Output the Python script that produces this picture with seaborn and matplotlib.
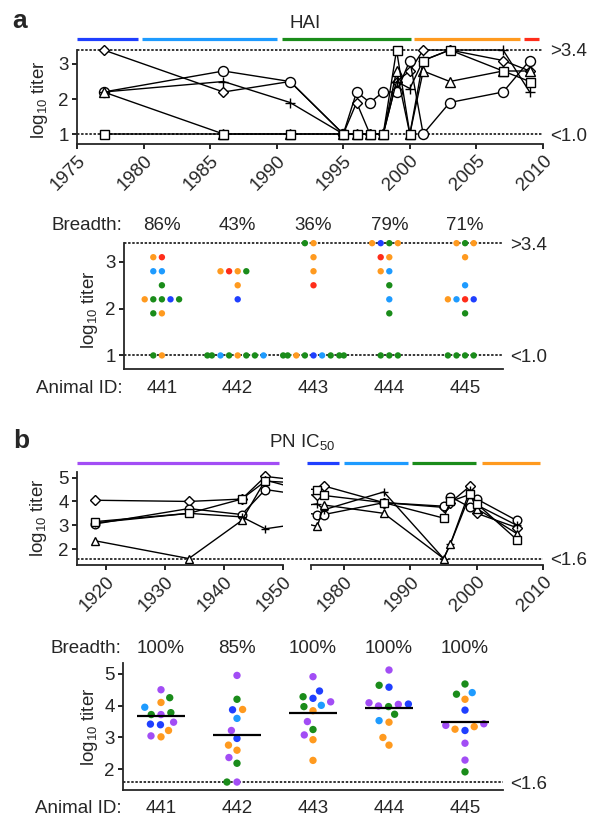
import warnings
import numpy as np
import pandas as pd
import matplotlib
matplotlib.use("Agg")
import matplotlib.pyplot as plt
from matplotlib.transforms import blended_transform_factory as blend
import seaborn as sns

warnings.filterwarnings("ignore", category=UserWarning)

# strain eras and their colours
P, B, LB, G, O, R = "1918-1947", "1976-1979", "1980-1989", "1990-1999", "2000-2007", "2009"
era_colors = {P: "#a24df5", B: "#1f3fff", LB: "#1e9bff", G: "#1a8c1a", O: "#ff9a1f", R: "#ff2d1a"}

animals = ["441", "442", "443", "444", "445"]
animal_markers = {"441": "D", "442": "o", "443": "+", "444": "^", "445": "s"}
marker_scale = {"441": 0.75, "442": 1.0, "443": 1.0, "444": 0.95, "445": 0.9}

# ---- panel a: HAI titers against strain year ----
hai_years = [1977, 1986, 1991, 1995, 1996, 1997, 1998, 1999, 2000, 2001, 2003, 2007, 2009]
hai_441 = [3.4, 2.2, 2.5, 1.0, 1.9, 1.0, 1.0, 2.5, 2.8, 3.4, 3.4, 3.1, 2.8]
hai_442 = [2.2, 2.8, 2.5, 1.0, 2.2, 1.9, 2.2, 2.2, 3.1, 1.0, 1.9, 2.2, 3.1]
hai_443 = [2.2, 2.5, 1.9, 1.0, 1.0, 1.0, 1.0, 2.5, 2.3, 3.1, 3.4, 3.4, 2.2]
hai_444 = [2.2, 1.0, 1.0, 1.0, 1.0, 1.0, 1.0, 2.8, 1.0, 2.8, 2.5, 2.8, 2.8]
hai_445 = [1.0, 1.0, 1.0, 1.0, 1.0, 1.0, 1.0, 3.4, 1.0, 3.1, 3.4, 2.8, 2.5]
hai_upper, hai_lower = 3.4, 1.0

hai_bar_eras = [B, LB, G, O, R]
hai_bar_start = [1975.0, 1979.9, 1990.4, 2000.3, 2008.6]
hai_bar_end = [1979.6, 1990.0, 2000.1, 2008.3, 2009.7]

# per animal HAI dot values and strain eras
hai_dot_values = {
    "441": [3.1, 3.1, 2.8, 2.8, 2.5, 2.2, 2.2, 2.2, 2.2, 2.2, 1.9, 1.9, 1.0, 1.0],
    "442": [2.8, 2.8, 2.8, 2.8, 2.5, 2.2, 1.0, 1.0, 1.0, 1.0, 1.0, 1.0, 1.0, 1.0],
    "443": [3.4, 3.4, 3.1, 2.8, 2.5, 1.0, 1.0, 1.0, 1.0, 1.0, 1.0, 1.0, 1.0, 1.0],
    "444": [3.4, 3.4, 3.4, 3.4, 3.1, 3.1, 2.8, 2.8, 2.5, 2.2, 1.9, 1.0, 1.0, 1.0],
    "445": [3.4, 3.4, 3.4, 3.1, 2.5, 2.2, 2.2, 2.2, 2.2, 1.9, 1.0, 1.0, 1.0, 1.0],
}
hai_dot_eras = {
    "441": [O, R, LB, LB, G, B, G, G, O, G, O, G, O, G],
    "442": [G, O, O, R, O, B, O, G, G, LB, G, G, LB, G],
    "443": [G, O, O, O, R, LB, B, G, G, G, G, G, O, G],
    "444": [O, O, G, B, R, O, LB, O, G, LB, G, G, G, G],
    "445": [O, O, G, O, LB, LB, R, B, O, G, G, G, G, G],
}

# ---- panel b: PN IC50 titers against strain year ----
pn_years = [1918, 1934, 1943, 1947, 1976, 1977, 1986, 1995, 1996, 1999, 2000, 2006]
pn_441 = [4.05, 4.0, 4.1, 5.05, 4.25, 4.65, 3.95, 3.75, 3.95, 4.65, 3.5, 2.9]
pn_442 = [3.05, 3.7, 3.45, 4.5, 3.45, 3.45, 3.95, 3.8, 4.2, 3.75, 4.1, 3.2]
pn_443 = [3.1, 3.5, 3.35, 2.85, 3.9, 3.65, 4.4, 1.6, 2.2, 4.5, 3.85, 3.0]
pn_444 = [2.35, 1.6, 3.2, 4.9, 2.95, 3.85, 3.5, 1.6, 2.2, 4.3, 3.7, 2.65]
pn_445 = [3.15, 3.5, 4.1, 4.85, 4.5, 4.25, 3.95, 3.3, 4.0, 4.3, 3.9, 2.4]
pn_lower = 1.6

pn_bar_eras = [P, B, LB, G, O]
pn_bar_start = [1915.0, 1974.5, 1980.0, 1990.3, 2000.8]
pn_bar_end = [1949.4, 1979.3, 1989.6, 1999.9, 2009.5]

pn_dot_values = {
    "441": [4.5, 4.25, 4.1, 3.95, 3.78, 3.72, 3.72, 3.42, 3.4, 3.48, 3.22, 3.02, 3.05],
    "442": [4.95, 4.2, 3.88, 3.87, 3.6, 3.22, 2.97, 2.76, 2.6, 2.37, 2.19, 1.6, 1.6],
    "443": [4.91, 4.46, 4.23, 4.28, 4.12, 3.97, 4.01, 3.84, 3.5, 3.25, 3.08, 2.93, 2.28],
    "444": [5.12, 4.64, 4.58, 4.09, 4.04, 3.97, 3.99, 4.05, 3.73, 3.53, 3.48, 3.0, 2.76],
    "445": [4.68, 4.36, 4.41, 4.2, 3.86, 3.38, 3.26, 3.22, 3.34, 3.43, 2.82, 2.29, 1.92],
}
pn_dot_eras = {
    "441": [P, G, O, LB, G, G, P, B, B, P, O, O, P],
    "442": [P, G, O, B, LB, P, B, O, O, P, G, G, P],
    "443": [P, B, B, G, P, G, LB, O, P, G, P, O, O],
    "444": [P, G, B, P, P, G, P, B, G, LB, O, O, O],
    "445": [G, G, LB, O, B, P, O, B, O, P, P, P, G],
}

FS = 13.5
sns.set_style("ticks")
plt.rcParams["font.family"] = ["Liberation Sans", "DejaVu Sans"]
plt.rcParams["mathtext.default"] = "regular"
plt.rcParams["font.size"] = FS

FIG_W, FIG_H = 592, 817
fig = plt.figure(figsize=(FIG_W / 100, FIG_H / 100), dpi=100)


def px_axes(left, top, right, bottom):
    return fig.add_axes([left / FIG_W, 1 - bottom / FIG_H,
                         (right - left) / FIG_W, (bottom - top) / FIG_H])


def fig_text(x, y, s, **kw):
    fig.text(x / FIG_W, 1 - y / FIG_H, s, **kw)


def style_axes(ax):
    for side in ["top", "right"]:
        ax.spines[side].set_visible(False)
    for side in ["left", "bottom"]:
        ax.spines[side].set_linewidth(1.3)
    ax.tick_params(length=3.6, width=1.2, pad=2.5, labelsize=FS, color="black")
    ax.set_xlabel("")
    ax.set_ylabel("")


def dashed(ax, y, **kw):
    ax.axhline(y, color="black", lw=1.1, ls=(0, (1.6, 1.1)), zorder=1, **kw)


def long_table(years, series):
    rows = [(a, yr, v) for a, vals in series.items() for yr, v in zip(years, vals)]
    return pd.DataFrame(rows, columns=["animal", "year", "titer"])


def dot_table(values, eras):
    rows = [(a, v, e) for a in animals for v, e in zip(values[a], eras[a])]
    return pd.DataFrame(rows, columns=["animal", "titer", "era"])


def draw_lines(ax, df, msize):
    # one call per animal: seaborn will not mix '+' with filled markers in one style map
    for a in animals:
        sns.lineplot(data=df[df["animal"] == a], x="year", y="titer", marker=animal_markers[a],
                     color="black", linewidth=1.0, markersize=msize * marker_scale[a],
                     markerfacecolor="white", markeredgecolor="black", markeredgewidth=1.0,
                     estimator=None, legend=False, ax=ax)


def era_bars(ax, starts, ends, eras, y):
    tr = blend(ax.transData, ax.transAxes)
    ax.hlines([y] * len(starts), starts, ends, colors=[era_colors[e] for e in eras],
              lw=2.3, transform=tr, clip_on=False)


def draw_dots(ax, df, size, pad):
    sns.swarmplot(data=df, x="animal", y="titer", hue="era", palette=era_colors,
                  order=animals, size=size, linewidth=pad, edgecolor="none",
                  legend=False, ax=ax, zorder=3)
    for c in ax.collections:
        c.set_edgecolor("none")
    ax.set_xlim(-0.5, 4.5)


def dot_labels(ax, df, limit, y_breadth, y_id):
    tr = blend(ax.transData, ax.transAxes)
    tra = ax.transAxes
    breadth = df.groupby("animal")["titer"].apply(lambda s: (s > limit).mean() * 100)
    for i, a in enumerate(animals):
        ax.text(i, y_breadth, f"{breadth[a]:.0f}%", transform=tr, ha="center", va="baseline", fontsize=FS)
        ax.text(i, y_id, a, transform=tr, ha="center", va="baseline", fontsize=FS)
    ax.text(-0.004, y_breadth, "Breadth:", transform=tra, ha="right", va="baseline", fontsize=FS)
    ax.text(-0.004, y_id, "Animal ID:", transform=tra, ha="right", va="baseline", fontsize=FS)


def limit_label(ax, x, y, s):
    ax.text(x, y, s, transform=blend(ax.transAxes, ax.transData), ha="left",
            va="center_baseline", fontsize=FS)


# ---------------- panel a, top ----------------
ax1 = px_axes(77, 44.75, 543, 143.8)
hai_df = long_table(hai_years, dict(zip(animals, [hai_441, hai_442, hai_443, hai_444, hai_445])))
draw_lines(ax1, hai_df, 7.2)
dashed(ax1, hai_upper)
dashed(ax1, hai_lower)
ax1.set_xlim(1975, 2010)
ax1.set_ylim(0.72, 3.55)
ax1.set_xticks(range(1975, 2011, 5))
ax1.set_yticks([1, 2, 3])
style_axes(ax1)
ax1.spines["left"].set_bounds(0.72, hai_upper)
plt.setp(ax1.get_xticklabels(), rotation=45, ha="right", rotation_mode="anchor")
era_bars(ax1, hai_bar_start, hai_bar_end, hai_bar_eras, 1.058)
limit_label(ax1, 1.015, hai_upper, ">3.4")
limit_label(ax1, 1.015, hai_lower, "<1.0")
fig_text(39.5, 100, r"log$_{10}$ titer", rotation=90, ha="center", va="center", fontsize=FS)
fig_text(12, 28, "a", fontsize=19, fontweight="bold", ha="left", va="baseline")
fig_text(305.5, 28, "HAI", fontsize=FS, ha="center", va="baseline")

# ---------------- panel a, dots ----------------
ax2 = px_axes(124, 238.5, 503, 369)
hai_dots = dot_table(hai_dot_values, hai_dot_eras)
dashed(ax2, hai_upper)
dashed(ax2, hai_lower)
draw_dots(ax2, hai_dots, 4.6, 1.3)
ax2.set_ylim(0.71, 3.5)
ax2.set_yticks([1, 2, 3])
style_axes(ax2)
ax2.tick_params(axis="x", length=0, labelbottom=False)
ax2.spines["left"].set_bounds(0.71, hai_upper)
limit_label(ax2, 1.018, hai_upper, ">3.4")
limit_label(ax2, 1.018, hai_lower, "<1.0")
dot_labels(ax2, hai_dots, hai_lower, 1.065, -0.182)
fig_text(90, 310, r"log$_{10}$ titer", rotation=90, ha="center", va="center", fontsize=FS)

# ---------------- panel b, top (broken year axis) ----------------
pn_df = long_table(pn_years, dict(zip(animals, [pn_441, pn_442, pn_443, pn_444, pn_445])))
ax3 = px_axes(77, 470.5, 283, 564.5)
ax4 = px_axes(310.7, 470.5, 543.3, 564.5)
for ax in (ax3, ax4):
    draw_lines(ax, pn_df, 6.2)
    ax.set_ylim(1.35, 5.3)
    style_axes(ax)
dashed(ax3, pn_lower)
dashed(ax4, pn_lower, xmin=-0.12, clip_on=False)
ax3.set_xlim(1915, 1950)
ax3.set_xticks([1920, 1930, 1940, 1950])
ax3.set_yticks([2, 3, 4, 5])
ax3.spines["left"].set_bounds(1.35, 5.25)
ax4.set_xlim(1975, 2010)
ax4.set_xticks([1980, 1990, 2000, 2010])
ax4.set_xticks([1975], minor=True)
ax4.tick_params(which="minor", length=3.6, width=1.2)
ax4.spines["left"].set_visible(False)
ax4.set_yticks([])
for ax in (ax3, ax4):
    plt.setp(ax.get_xticklabels(), rotation=45, ha="right", rotation_mode="anchor")
era_bars(ax3, pn_bar_start[:1], pn_bar_end[:1], pn_bar_eras[:1], 1.083)
era_bars(ax4, pn_bar_start[1:], pn_bar_end[1:], pn_bar_eras[1:], 1.083)
limit_label(ax4, 1.029, pn_lower, "<1.6")
fig_text(39, 518, r"log$_{10}$ titer", rotation=90, ha="center", va="center", fontsize=FS)
fig_text(13, 448, "b", fontsize=19, fontweight="bold", ha="left", va="baseline")
fig_text(302, 446.7, r"PN IC$_{50}$", fontsize=FS, ha="center", va="baseline")

# ---------------- panel b, dots ----------------
ax5 = px_axes(123, 663, 503, 790)
pn_dots = dot_table(pn_dot_values, pn_dot_eras)
dashed(ax5, pn_lower)
draw_dots(ax5, pn_dots, 5.3, 1.6)
means = pn_dots.groupby("animal")["titer"].mean().reindex(animals)
pos = np.arange(len(animals))
ax5.hlines(means.values, pos - 0.32, pos + 0.32, color="black", lw=1.6, zorder=4)
ax5.set_ylim(1.35, 5.34)
ax5.set_yticks([2, 3, 4, 5])
style_axes(ax5)
ax5.tick_params(axis="x", length=0, labelbottom=False)
limit_label(ax5, 1.018, pn_lower, "<1.6")
dot_labels(ax5, pn_dots, pn_lower, 1.081, -0.183)
fig_text(89.7, 727, r"log$_{10}$ titer", rotation=90, ha="center", va="center", fontsize=FS)

fig.savefig("out.png", dpi=100)
